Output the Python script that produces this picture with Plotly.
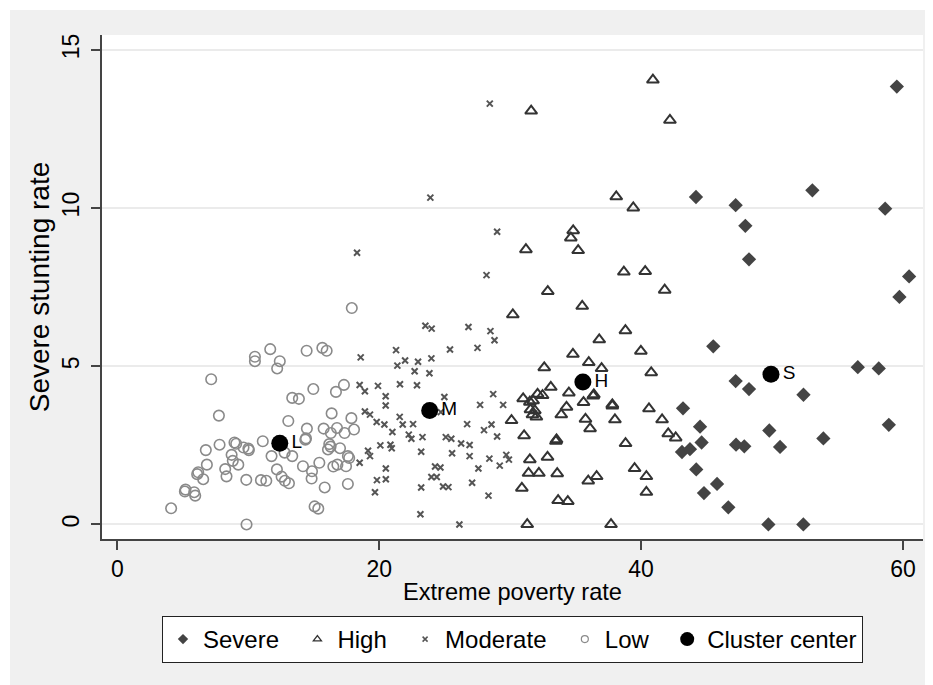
import plotly.graph_objects as go

# ---------------- data ----------------
severe_x = [59.53, 44.19, 53.08, 47.22, 58.64, 47.96, 48.24, 60.47, 59.73, 45.51, 56.55, 58.15,
            47.22, 48.24, 52.4, 43.2, 44.5, 44.62, 49.79, 58.92, 53.92, 43.12, 43.73, 47.25,
            47.88, 50.61, 44.21, 44.8, 45.8, 46.66, 49.72, 52.39]
severe_y = [13.84, 10.35, 10.56, 10.09, 9.98, 9.44, 8.38, 7.84, 7.19, 5.63, 4.97, 4.93,
            4.53, 4.28, 4.1, 3.67, 3.09, 2.59, 2.97, 3.15, 2.72, 2.29, 2.38, 2.52,
            2.47, 2.45, 1.74, 0.99, 1.28, 0.54, 0.0, 0.0]

high_x = [40.9, 42.2, 31.6, 38.1, 39.4, 34.81, 34.63, 31.2, 35.19, 38.68, 40.31, 32.87, 41.8,
          35.5, 30.2, 38.8, 36.8, 39.98, 34.79, 36.0, 32.6, 36.98, 40.77, 33.1, 34.48, 36.39,
          36.34, 32.09, 32.47, 30.99, 31.5, 31.75, 31.55, 31.88, 31.7, 32.0, 34.3, 33.9, 35.6,
          37.8, 37.8, 40.6, 30.1, 35.75, 38.0, 41.6, 36.1, 42.07, 42.64, 31.06, 33.54, 33.49,
          38.81, 31.5, 32.85, 31.4, 32.19, 33.59, 39.5, 40.4, 35.96, 36.6, 30.89, 40.4, 33.66,
          34.4, 31.3, 37.7]
high_y = [14.05, 12.78, 13.07, 10.36, 10.01, 9.29, 9.06, 8.69, 8.66, 7.98, 8.0, 7.37, 7.41,
          6.9, 6.63, 6.13, 5.84, 5.48, 5.38, 5.12, 4.96, 4.93, 4.8, 4.34, 4.16, 4.1,
          4.06, 4.12, 4.08, 3.98, 3.87, 3.91, 3.63, 3.6, 3.47, 3.4, 3.71, 3.47, 3.86,
          3.79, 3.75, 3.66, 3.29, 3.33, 3.31, 3.31, 3.03, 2.87, 2.74, 2.81, 2.68, 2.63,
          2.56, 2.05, 2.13, 1.62, 1.62, 1.61, 1.77, 1.52, 1.38, 1.52, 1.15, 1.02, 0.76,
          0.73, 0.0, 0.0]

moderate_x = [28.44, 23.9, 29.0, 18.3, 28.19, 23.52, 24.0, 26.81, 28.49, 28.8, 21.28, 25.4,
              27.5, 18.58, 21.97, 21.38, 22.96, 23.98, 22.7, 23.83, 18.5, 18.9, 19.9, 21.58,
              22.88, 20.49, 20.49, 24.97, 28.7, 27.7, 29.46, 18.9, 19.29, 19.8, 20.39, 21.56,
              21.79, 22.58, 24.7, 21.0, 22.25, 22.45, 23.3, 25.08, 25.5, 26.25, 26.9, 26.71,
              28.0, 28.57, 29.0, 20.08, 20.85, 20.95, 23.2, 19.14, 19.29, 18.5, 25.56, 26.9,
              20.5, 19.82, 20.5, 24.26, 24.67, 23.98, 24.39, 27.57, 28.41, 29.2, 29.7, 29.9,
              24.87, 25.28, 23.2, 27.09, 28.34, 19.67, 23.14, 26.12]
moderate_y = [13.3, 10.33, 9.25, 8.59, 7.88, 6.28, 6.19, 6.24, 6.11, 5.82, 5.51, 5.53,
              5.58, 5.28, 5.18, 5.02, 5.14, 5.25, 4.84, 4.78, 4.41, 4.21, 4.38, 4.43,
              4.4, 4.05, 3.76, 4.03, 4.12, 3.78, 3.78, 3.57, 3.47, 3.24, 3.16, 3.4,
              3.16, 3.17, 3.55, 2.92, 2.84, 2.71, 2.76, 2.76, 2.71, 2.56, 2.51, 3.17,
              2.98, 3.16, 2.78, 2.5, 2.52, 2.41, 2.3, 2.33, 2.16, 1.95, 2.25, 2.16,
              1.77, 1.4, 1.43, 1.83, 1.8, 1.5, 1.5, 1.77, 2.08, 1.86, 2.2, 2.05,
              1.2, 1.18, 1.17, 1.32, 0.91, 1.02, 0.32, 0.0]

low_x = [17.9, 11.67, 10.5, 10.5, 12.4, 12.2, 14.45, 15.65, 15.98, 7.16, 13.35, 13.86, 14.96,
         16.69, 17.3, 7.75, 13.05, 16.36, 17.87, 14.47, 15.75, 16.77, 16.3, 17.35, 18.07,
         14.35, 14.4, 11.1, 8.94, 9.07, 9.63, 10.04, 10.0, 7.8, 6.75, 8.72, 8.81, 9.23,
         11.77, 12.77, 13.35, 16.18, 16.28, 16.08, 17.0, 17.6, 17.7, 6.83, 6.17, 6.09, 6.55,
         8.23, 8.33, 9.84, 10.96, 11.37, 12.18, 12.54, 12.79, 13.1, 14.17, 14.86, 14.83,
         15.42, 16.49, 16.8, 17.46, 15.83, 17.6, 5.2, 5.15, 5.86, 5.94, 4.1, 15.06, 15.34, 9.86]
low_y = [6.84, 5.54, 5.3, 5.16, 5.16, 4.93, 5.49, 5.58, 5.49, 4.59, 4.0, 3.97, 4.28,
         4.19, 4.41, 3.44, 3.27, 3.51, 3.36, 3.03, 3.03, 3.05, 2.89, 2.89, 3.0,
         2.68, 2.72, 2.63, 2.59, 2.55, 2.43, 2.35, 2.4, 2.52, 2.35, 2.2, 2.01, 1.89,
         2.16, 2.27, 2.16, 2.54, 2.46, 2.37, 2.41, 2.16, 2.1, 1.89, 1.65, 1.59, 1.43,
         1.75, 1.52, 1.41, 1.4, 1.38, 1.74, 1.51, 1.38, 1.3, 1.84, 1.68, 1.45,
         1.95, 1.83, 1.89, 1.84, 1.17, 1.28, 1.1, 1.04, 1.02, 0.91, 0.51, 0.57, 0.5, 0.0]

center_x = [12.4, 23.85, 35.55, 49.92]
center_y = [2.57, 3.6, 4.5, 4.75]
center_labels = ["L", "M", "H", "S"]

legend_names = ["Severe", "High", "Moderate", "Low", "Cluster center"]

x_ticks = [0, 20, 40, 60]
y_ticks = [0, 5, 10, 15]

FONT = "Liberation Sans, Arial, sans-serif"
PAD = "\u00a0\u00a0"  # spacing after each legend label

fig = go.Figure()

# plotted marks (legend shown through small proxy entries below)
fig.add_trace(go.Scatter(x=severe_x, y=severe_y, mode="markers", showlegend=False,
                         marker=dict(symbol="diamond", size=11, color="#444444",
                                     line=dict(width=0))))
fig.add_trace(go.Scatter(x=high_x, y=high_y, mode="markers", showlegend=False,
                         marker=dict(symbol="triangle-up-open", size=10.5, color="#333333",
                                     line=dict(width=2, color="#333333"))))
fig.add_trace(go.Scatter(x=moderate_x, y=moderate_y, mode="markers", showlegend=False,
                         marker=dict(symbol="x-thin", size=6, color="#555555",
                                     line=dict(width=2, color="#555555"))))
fig.add_trace(go.Scatter(x=low_x, y=low_y, mode="markers", showlegend=False,
                         marker=dict(symbol="circle-open", size=10.5, color="#8a8a8a",
                                     line=dict(width=1.6, color="#8a8a8a"))))
fig.add_trace(go.Scatter(x=center_x, y=center_y, mode="markers+text", showlegend=False,
                         text=center_labels, textposition="middle right",
                         textfont=dict(family=FONT, size=19, color="#000000"),
                         marker=dict(symbol="circle", size=17, color="#000000")))

# legend entries
legend_markers = [
    dict(symbol="diamond", size=8, color="#444444"),
    dict(symbol="triangle-up-open", size=7, color="#333333", line=dict(width=1.3, color="#333333")),
    dict(symbol="x-thin", size=5, color="#555555", line=dict(width=1.5, color="#555555")),
    dict(symbol="circle-open", size=7, color="#8a8a8a", line=dict(width=1.2, color="#8a8a8a")),
    dict(symbol="circle", size=14, color="#000000"),
]
for i, (name, mk) in enumerate(zip(legend_names, legend_markers)):
    label = name if i == len(legend_names) - 1 else name + PAD
    fig.add_trace(go.Scatter(x=[None], y=[None], mode="markers", name=label, marker=mk))

W, H = 925, 677          # page body adds an 8px margin
L, R, T, B = 94, 10, 27, 146
pw, ph = W - L - R, H - T - B

def px_x(p):
    return (p - L) / pw

def px_y(p):
    return (H - B - p) / ph

fig.update_layout(
    width=W, height=H,
    margin=dict(l=L, r=R, t=T, b=B, autoexpand=False),
    paper_bgcolor="#f0f0f0",
    plot_bgcolor="#ffffff",
    font=dict(family=FONT, size=22, color="#000000"),
    showlegend=True,
    legend=dict(orientation="h", x=px_x(504.5), xanchor="center", y=px_y(608), yanchor="top",
                bgcolor="#ffffff", bordercolor="#222222", borderwidth=1,
                font=dict(family=FONT, size=24, color="#000000"),
                itemsizing="trace", itemwidth=30, tracegroupgap=0),
    xaxis=dict(range=[-1.18, 61.53], tickvals=x_ticks, ticktext=[str(v) for v in x_ticks],
               showgrid=False, zeroline=False, showline=True, linecolor="#444444", linewidth=1.5,
               ticks="outside", ticklen=9, tickwidth=1.5, tickcolor="#444444",
               tickfont=dict(family=FONT, size=23, color="#000000"),
               title=dict(text="Extreme poverty rate", standoff=2,
                          font=dict(family=FONT, size=23.6, color="#000000")),
               fixedrange=True),
    yaxis=dict(range=[-0.46, 15.47], tickvals=y_ticks, ticktext=[str(v) for v in y_ticks],
               showgrid=True, gridcolor="#ebebeb", gridwidth=2, zeroline=False,
               showline=True, linecolor="#444444", linewidth=1.5,
               ticks="outside", ticklen=9, tickwidth=1.5, tickcolor="#444444",
               tickangle=-90, ticklabelstandoff=3,
               tickfont=dict(family=FONT, size=23, color="#000000"),
               title=dict(text="Severe stunting rate", standoff=0,
                          font=dict(family=FONT, size=28, color="#000000")),
               fixedrange=True),
    shapes=[
        # thin white outer strip at top and left of the grey background
        dict(type="rect", xref="paper", yref="paper", x0=px_x(0), x1=px_x(W), y0=px_y(2), y1=px_y(0),
             fillcolor="#ffffff", line=dict(width=0), layer="below"),
        dict(type="rect", xref="paper", yref="paper", x0=px_x(0), x1=px_x(2), y0=px_y(H), y1=px_y(0),
             fillcolor="#ffffff", line=dict(width=0), layer="below"),
    ],
)

fig.write_html("out.html")
